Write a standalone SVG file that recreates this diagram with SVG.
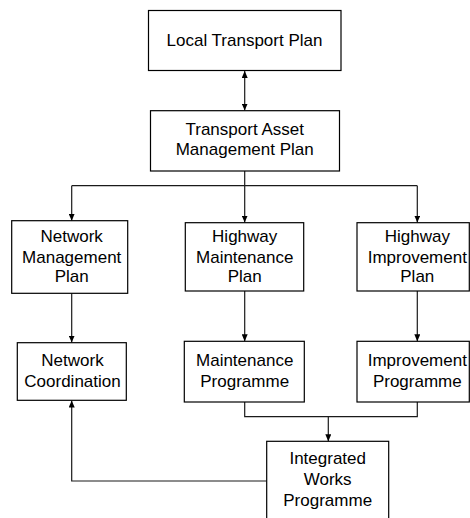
<svg xmlns="http://www.w3.org/2000/svg" width="470" height="518" viewBox="0 0 470 518">
  <style>
    .box { fill: #ffffff; stroke: #000000; stroke-width: 1.2; }
    .lbl { font-family: "Liberation Sans", Arial, sans-serif; font-size: 17px; fill: #000000; text-anchor: middle; }
    .wire { fill: none; stroke: #1a1a1a; stroke-width: 1.2; }
  </style>
  <defs>
    <marker id="arrow" viewBox="0 0 7 6" refX="7" refY="3" markerWidth="7" markerHeight="6" markerUnits="userSpaceOnUse" orient="auto-start-reverse">
      <path d="M0,0 L7,3 L0,6 z" fill="#000000"/>
    </marker>
  </defs>
  <rect width="470" height="518" fill="#ffffff"/>

  <g id="connectors">
    <!-- LTP <-> TAMP -->
    <line class="wire" x1="244.7" y1="71" x2="244.7" y2="110.5" marker-start="url(#arrow)" marker-end="url(#arrow)"/>
    <!-- TAMP fan-out -->
    <line class="wire" x1="244.7" y1="171" x2="244.7" y2="185.7"/>
    <line class="wire" x1="71.7" y1="185.7" x2="417.3" y2="185.7"/>
    <line class="wire" x1="71.7" y1="185.7" x2="71.7" y2="220.7" marker-end="url(#arrow)"/>
    <line class="wire" x1="244.7" y1="185.7" x2="244.7" y2="222.5" marker-end="url(#arrow)"/>
    <line class="wire" x1="417.3" y1="185.7" x2="417.3" y2="222.5" marker-end="url(#arrow)"/>
    <!-- plans to programmes -->
    <line class="wire" x1="71.7" y1="293.3" x2="71.7" y2="342.5" marker-end="url(#arrow)"/>
    <line class="wire" x1="244.7" y1="291" x2="244.7" y2="341.3" marker-end="url(#arrow)"/>
    <line class="wire" x1="417.3" y1="291" x2="417.3" y2="341.3" marker-end="url(#arrow)"/>
    <!-- programmes merge into integrated works -->
    <path class="wire" d="M244.7,402 V416.7 H417.3 V402"/>
    <line class="wire" x1="328.3" y1="416.7" x2="328.3" y2="441.3" marker-end="url(#arrow)"/>
    <!-- integrated works back to network coordination -->
    <path class="wire" d="M266.7,481 H71.7 V400.5" marker-end="url(#arrow)"/>
  </g>

  <g id="local-transport-plan">
    <rect class="box" x="148.5" y="10.5" width="192.5" height="60"/>
    <text class="lbl" x="244.5" y="46">Local Transport Plan</text>
  </g>

  <g id="transport-asset-management-plan">
    <rect class="box" x="150.5" y="110.7" width="189" height="60.3"/>
    <text class="lbl" x="244.7" y="135">Transport Asset</text>
    <text class="lbl" x="244.7" y="155">Management Plan</text>
  </g>

  <g id="network-management-plan">
    <rect class="box" x="11.7" y="220.7" width="116" height="72.6"/>
    <text class="lbl" x="71.7" y="242.3">Network</text>
    <text class="lbl" x="71.7" y="262.7">Management</text>
    <text class="lbl" x="71.7" y="282.3">Plan</text>
  </g>

  <g id="highway-maintenance-plan">
    <rect class="box" x="185.3" y="222.7" width="118.4" height="68.3"/>
    <text class="lbl" x="244.7" y="242.3">Highway</text>
    <text class="lbl" x="244.7" y="262.7">Maintenance</text>
    <text class="lbl" x="244.7" y="282.3">Plan</text>
  </g>

  <g id="highway-improvement-plan">
    <rect class="box" x="357" y="222.7" width="112.3" height="68.3"/>
    <text class="lbl" x="417.3" y="242.3">Highway</text>
    <text class="lbl" x="417.3" y="262.7">Improvement</text>
    <text class="lbl" x="417.3" y="282.3">Plan</text>
  </g>

  <g id="network-coordination">
    <rect class="box" x="17.3" y="342.7" width="109" height="57.6"/>
    <text class="lbl" x="72.5" y="366">Network</text>
    <text class="lbl" x="72.5" y="387">Coordination</text>
  </g>

  <g id="maintenance-programme">
    <rect class="box" x="184.3" y="341.3" width="120" height="60.7"/>
    <text class="lbl" x="244.7" y="366">Maintenance</text>
    <text class="lbl" x="244.7" y="387">Programme</text>
  </g>

  <g id="improvement-programme">
    <rect class="box" x="357" y="341.3" width="112.3" height="60.7"/>
    <text class="lbl" x="417.3" y="366">Improvement</text>
    <text class="lbl" x="417.3" y="387">Programme</text>
  </g>

  <g id="integrated-works-programme">
    <rect class="box" x="266.7" y="441.3" width="122" height="90"/>
    <text class="lbl" x="327.7" y="463.5">Integrated</text>
    <text class="lbl" x="327.7" y="485">Works</text>
    <text class="lbl" x="327.7" y="506">Programme</text>
  </g>
</svg>
